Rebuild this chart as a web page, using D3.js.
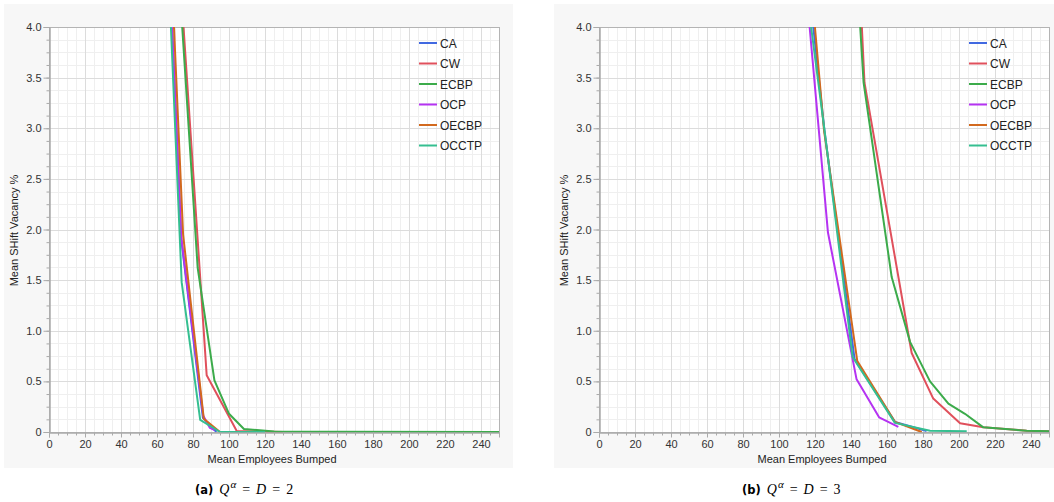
<!DOCTYPE html>
<html>
<head>
<meta charset="utf-8">
<script src="https://cdn.jsdelivr.net/npm/d3@7"></script>
<style>
  html, body { margin: 0; padding: 0; background: #ffffff; }
  svg { display: block; }
</style>
</head>
<body>
<svg id="chart" width="1054" height="502"></svg>
<script>
// ---------------- DATA ----------------
const seriesNames = ["CA", "CW", "ECBP", "OCP", "OECBP", "OCCTP"];
const xTickValues = [0, 20, 40, 60, 80, 100, 120, 140, 160, 180, 200, 220, 240];
const yTickValues = [0, 0.5, 1.0, 1.5, 2.0, 2.5, 3.0, 3.5, 4.0];
const yTickLabels = ["0", "0.5", "1.0", "1.5", "2.0", "2.5", "3.0", "3.5", "4.0"];
const xLabel = "Mean Employees Bumped";
const yLabel = "Mean SHift Vacancy %";

// Panel (a): Q^α = D = 2   [mean employees bumped, mean shift vacancy %]
const a_CA    = [[63, 6.2], [73.5, 1.9], [85.5, 0.14], [93, 0.0]];
const a_CW    = [[68, 5.8], [87.6, 0.56], [104.3, 0.01], [130, 0.0]];
const a_ECBP  = [[68.6, 5.5], [82.6, 1.62], [91.9, 0.51], [100, 0.18], [108.3, 0.03], [125, 0.006], [160, 0.002], [260, 0.0]];
const a_OCP   = [[63, 6.2], [73.5, 1.92], [85.7, 0.16], [89.4, 0.04], [92, 0.02]];
const a_OECBP = [[64, 6.2], [74.5, 1.95], [86, 0.13], [95, 0.0], [110, 0.0]];
const a_OCCTP = [[63, 6.0], [73.7, 1.48], [84, 0.12], [95, 0.0], [120, 0.0]];

// Panel (b): Q^α = D = 3
const b_CA    = [[113, 5.0], [125.3, 2.97], [142, 0.72], [164.4, 0.1], [182, 0.01]];
const b_CW    = [[142, 5.5], [147.5, 3.45], [173.7, 0.78], [185.7, 0.33], [200.6, 0.086], [213.5, 0.046], [237.6, 0.013], [250, 0.008]];
const b_ECBP  = [[140, 5.5], [147, 3.45], [162.6, 1.53], [172.8, 0.89], [183.9, 0.5], [194.1, 0.28], [203.3, 0.18], [213.5, 0.046], [237.6, 0.012], [250, 0.008]];
const b_OCP   = [[111, 5.2], [127.2, 1.97], [143.1, 0.52], [155.6, 0.145], [166.3, 0.05]];
const b_OECBP = [[115, 5.0], [125, 2.98], [143.5, 0.70], [164.4, 0.1], [179.3, 0.0]];
const b_OCCTP = [[112, 4.8], [125.5, 2.95], [140.9, 0.74], [164.4, 0.09], [183.9, 0.013], [204.3, 0.008]];

const panelA = [a_CA, a_CW, a_ECBP, a_OCP, a_OECBP, a_OCCTP];
const panelB = [b_CA, b_CW, b_ECBP, b_OCP, b_OECBP, b_OCCTP];

// ---------------- STYLE ----------------
const colors = ["#4169e1", "#e0505c", "#3cab4b", "#b533f2", "#d2691e", "#35bf90"];
const FONT = "'Liberation Sans', Arial, Helvetica, sans-serif";

const svg = d3.select("#chart");

function drawPanel(idx, bgX0, bgX1, plotX0, data, capLetter, capNum, capX) {
  const top = 27, bottom = 432;
  const plotX1 = plotX0 + 450;
  const g = svg.append("g");

  g.append("rect").attr("x", bgX0).attr("y", 4).attr("width", bgX1 - bgX0).attr("height", 464)
    .attr("fill", "#f7f7f7");
  g.append("rect").attr("x", plotX0).attr("y", top).attr("width", plotX1 - plotX0).attr("height", bottom - top)
    .attr("fill", "#ffffff");

  const x = d3.scaleLinear().domain([0, 250]).range([plotX0, plotX1]);
  const y = d3.scaleLinear().domain([0, 4]).range([bottom, top]);

  // minor grid
  const xMinor = d3.range(0, 251, 5);
  const yMinor = d3.range(0, 4.0001, 0.125);
  g.append("g").selectAll("line").data(xMinor).join("line")
    .attr("x1", d => x(d) + 0.5).attr("x2", d => x(d) + 0.5).attr("y1", top).attr("y2", bottom)
    .attr("stroke", "#efefef").attr("stroke-width", 1);
  g.append("g").selectAll("line").data(yMinor).join("line")
    .attr("y1", d => Math.round(y(d)) + 0.5).attr("y2", d => Math.round(y(d)) + 0.5).attr("x1", plotX0).attr("x2", plotX1)
    .attr("stroke", "#efefef").attr("stroke-width", 1);
  // major grid
  g.append("g").selectAll("line").data(xTickValues).join("line")
    .attr("x1", d => x(d) + 0.5).attr("x2", d => x(d) + 0.5).attr("y1", top).attr("y2", bottom)
    .attr("stroke", "#dcdcdc").attr("stroke-width", 1);
  g.append("g").selectAll("line").data(yTickValues).join("line")
    .attr("y1", d => Math.round(y(d)) + 0.5).attr("y2", d => Math.round(y(d)) + 0.5).attr("x1", plotX0).attr("x2", plotX1)
    .attr("stroke", "#dcdcdc").attr("stroke-width", 1);

  // frame
  g.append("rect").attr("x", plotX0 + 0.5).attr("y", top + 0.5).attr("width", plotX1 - plotX0).attr("height", bottom - top)
    .attr("fill", "none").attr("stroke", "#b4b4b4").attr("stroke-width", 1);

  // clip + lines
  const clipId = "clip" + idx;
  svg.append("defs").append("clipPath").attr("id", clipId)
    .append("rect").attr("x", plotX0).attr("y", top).attr("width", plotX1 - plotX0).attr("height", bottom - top + 1);
  const line = d3.line().x(d => x(d[0])).y(d => y(d[1]));
  const lg = g.append("g").attr("clip-path", `url(#${clipId})`);
  data.forEach((s, i) => {
    lg.append("path").attr("d", line(s)).attr("fill", "none")
      .attr("stroke", colors[i]).attr("stroke-width", 2).attr("stroke-linejoin", "round");
  });

  // axes
  const xAxis = d3.axisBottom(x).tickValues(xTickValues).tickSize(5).tickPadding(3).tickFormat(d3.format("d"));
  const xa = g.append("g").attr("transform", `translate(0,${bottom + 0.5})`).call(xAxis);
  const xMinorAxis = d3.axisBottom(x).tickValues(xMinor).tickSize(3).tickFormat("");
  g.append("g").attr("transform", `translate(0,${bottom + 0.5})`).call(xMinorAxis);

  const yAxis = d3.axisLeft(y).tickValues(yTickValues).tickSize(6).tickPadding(2)
    .tickFormat((d, i) => yTickLabels[i]);
  const ya = g.append("g").attr("transform", `translate(${plotX0 + 0.5},0)`).call(yAxis);
  const yMinorAxis = d3.axisLeft(y).tickValues(yMinor).tickSize(3).tickFormat("");
  g.append("g").attr("transform", `translate(${plotX0 + 0.5},0)`).call(yMinorAxis);

  g.selectAll(".domain").attr("stroke", "#aaaaaa");
  g.selectAll(".tick line").attr("stroke", "#aaaaaa");
  g.selectAll(".tick text").attr("fill", "#333").style("font-family", FONT).style("font-size", "11px");

  // axis titles
  g.append("text").attr("x", (plotX0 + plotX1) / 2 - 2).attr("y", 463).attr("text-anchor", "middle")
    .style("font-family", FONT).style("font-size", "11px").attr("fill", "#222").text(xLabel);
  g.append("text").attr("transform", `translate(${plotX0 - 31},${(top + bottom) / 2 + 1}) rotate(-90)`)
    .attr("text-anchor", "middle")
    .style("font-family", FONT).style("font-size", "11px").attr("fill", "#222").text(yLabel);

  // legend
  const legX = plotX1 - 80;
  seriesNames.forEach((name, i) => {
    const ly = 43 + i * 20.5;
    g.append("line").attr("x1", legX).attr("x2", legX + 18).attr("y1", ly).attr("y2", ly)
      .attr("stroke", colors[i]).attr("stroke-width", 2);
    g.append("text").attr("x", legX + 21).attr("y", ly + 4.5)
      .style("font-family", FONT).style("font-size", "12px").attr("fill", "#222").text(name);
  });

  // caption
  const cap = svg.append("text").attr("x", capX).attr("y", 494).attr("fill", "#000");
  cap.append("tspan").style("font-family", "'DejaVu Sans', sans-serif").style("font-weight", "bold")
    .style("font-size", "11.5px").text("(" + capLetter + ")");
  cap.append("tspan").style("font-family", "'Liberation Serif', 'DejaVu Serif', serif").style("font-style", "italic")
    .style("font-size", "14px").attr("dx", 6).text("Q");
  cap.append("tspan").style("font-family", "'Liberation Serif', 'DejaVu Serif', serif").style("font-style", "italic")
    .style("font-size", "11px").attr("dx", 1).attr("dy", -6).text("α");
  cap.append("tspan").style("font-family", "'Liberation Serif', 'DejaVu Serif', serif")
    .style("font-size", "14px").attr("dx", 6).attr("dy", 6).text("=");
  cap.append("tspan").style("font-family", "'Liberation Serif', 'DejaVu Serif', serif").style("font-style", "italic")
    .style("font-size", "14px").attr("dx", 6).text("D");
  cap.append("tspan").style("font-family", "'Liberation Serif', 'DejaVu Serif', serif")
    .style("font-size", "14px").attr("dx", 6).text("=");
  cap.append("tspan").style("font-family", "'Liberation Serif', 'DejaVu Serif', serif")
    .style("font-size", "14px").attr("dx", 6).text(capNum);
}

drawPanel(0, 4, 513, 49, panelA, "a", "2", 195);
drawPanel(1, 554, 1054, 599, panelB, "b", "3", 742);
</script>
</body>
</html>
